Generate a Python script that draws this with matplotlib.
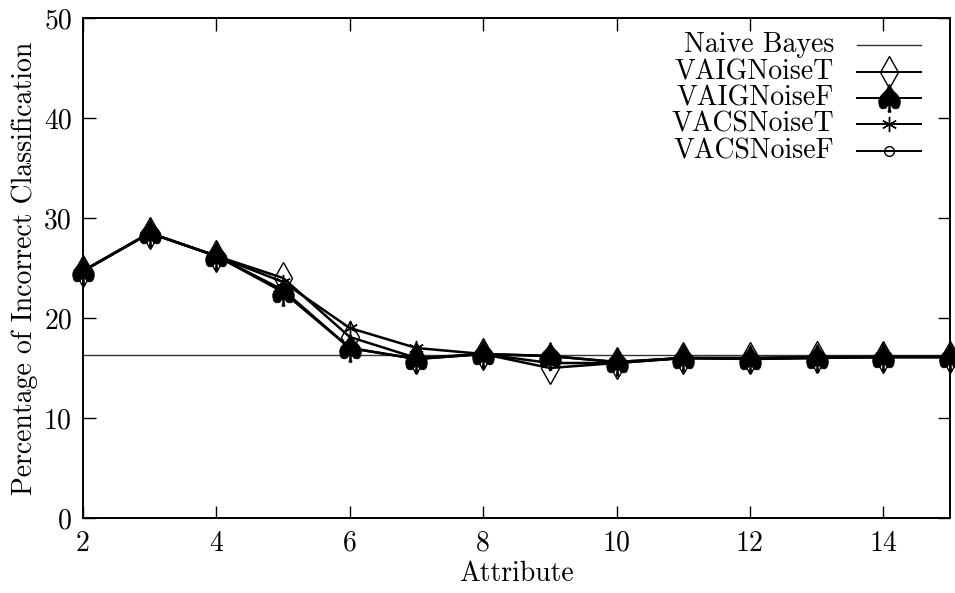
import matplotlib
matplotlib.use("Agg")
import matplotlib.pyplot as plt
from matplotlib.lines import Line2D

attributes = [2, 3, 4, 5, 6, 7, 8, 9, 10, 11, 12, 13, 14, 15]
naive_bayes = [16.3] * 14
vaig_noise_t = [24.7, 28.5, 26.2, 24.0, 18.1, 16.0, 16.4, 15.0, 15.5, 16.0, 16.0, 16.1, 16.1, 16.1]
vaig_noise_f = [24.7, 28.5, 26.2, 22.6, 17.0, 15.9, 16.4, 16.2, 15.6, 16.0, 15.9, 16.0, 16.1, 16.1]
vacs_noise_t = [24.7, 28.5, 26.2, 23.6, 19.0, 17.0, 16.4, 15.5, 15.5, 16.0, 16.0, 16.1, 16.1, 16.1]
vacs_noise_f = [24.7, 28.5, 26.2, 22.8, 17.0, 15.9, 16.4, 16.2, 15.6, 16.0, 15.9, 16.0, 16.1, 16.1]
labels = ["Naive Bayes", "VAIGNoiseT", "VAIGNoiseF", "VACSNoiseT", "VACSNoiseF"]
xticks = [2, 4, 6, 8, 10, 12, 14]
yticks = [0, 10, 20, 30, 40, 50]

plt.rcParams['font.family'] = ['cmr10', 'DejaVu Serif']
plt.rcParams['mathtext.fontset'] = 'cm'
plt.rcParams['axes.unicode_minus'] = False
FS = 20

fig = plt.figure(figsize=(9.55, 5.93), dpi=100)
ax = fig.add_axes([83/955, 75/593, 867/955, 500/593])

styles = [
    dict(color='#333333', lw=1.0, marker=None),
    dict(color='black', lw=1.8, marker='d', ms=16, mfc='white', mec='black', mew=1.0, fillstyle='none'),
    dict(color='black', lw=1.8, marker=r'$\spadesuit$', ms=20, mfc='black', mec='black', mew=0.5),
    dict(color='black', lw=1.8, marker=(6, 2, 0), ms=11, mec='black', mew=1.0),
    dict(color='black', lw=1.8, marker='o', ms=7, mfc='none', mec='black', mew=1.0, fillstyle='none'),
]
series = [naive_bayes, vaig_noise_t, vaig_noise_f, vacs_noise_t, vacs_noise_f]
for ys, st in zip(series, styles):
    ax.plot(attributes, ys, clip_on=False, **st)

ax.set_xlim(2, 15)
ax.set_ylim(0, 50)
ax.set_xticks(xticks)
ax.set_yticks(yticks)
ax.tick_params(direction='in', length=9, width=1.0, top=True, right=True,
               labelsize=FS)
ax.tick_params(axis='x', pad=9)
ax.tick_params(axis='y', pad=8)
for s in ax.spines.values():
    s.set_linewidth(1.4)
ax.set_xlabel("Attribute", fontsize=FS, labelpad=3)
ax.set_ylabel("Percentage of Incorrect Classification", fontsize=FS, labelpad=4)

# legend (gnuplot style: right-aligned text, sample to the right)
rows_y = [45, 72, 98, 124, 151]
for lab, st, yp in zip(labels, styles, rows_y):
    yf = 1 - yp / 593
    fig.text(834 / 955, yf, lab, ha='right', va='center', fontsize=FS)
    fig.add_artist(Line2D([857 / 955, 921 / 955], [yf, yf], transform=fig.transFigure,
                          color=st['color'], lw=st['lw'] if st['marker'] is None else 1.4))
    if st['marker'] is not None:
        kw = {k: v for k, v in st.items() if k not in ('color', 'lw')}
        fig.add_artist(Line2D([889 / 955], [yf], transform=fig.transFigure,
                              linestyle='none', color='black', **kw))

fig.savefig("out.png", dpi=100)
